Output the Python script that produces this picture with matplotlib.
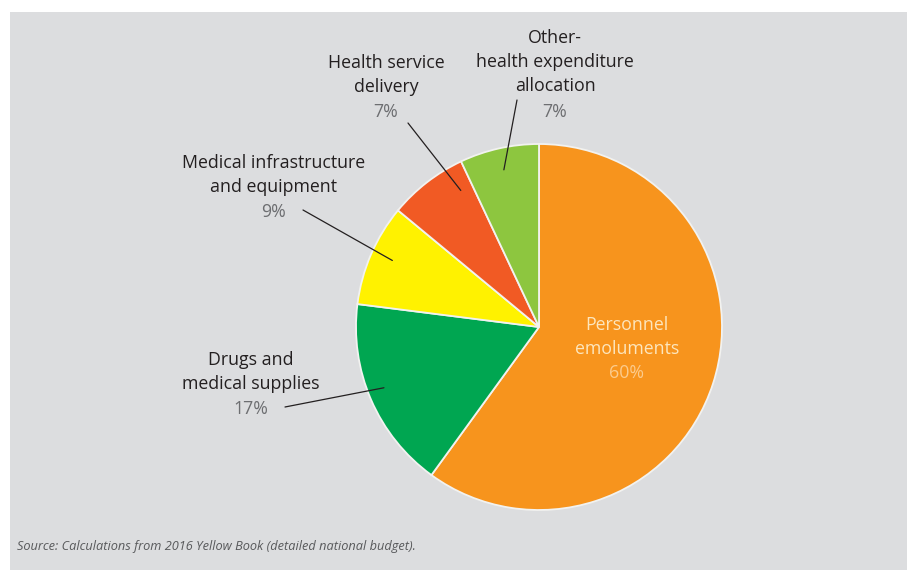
import numpy as np
import matplotlib.pyplot as plt
from matplotlib.patches import Rectangle

# health budget shares
categories = ['Personnel\nemoluments', 'Drugs and\nmedical supplies',
              'Medical infrastructure\nand equipment', 'Health service\ndelivery',
              'Other-\nhealth expenditure\nallocation']
shares = [60, 17, 9, 7, 7]
colors = ['#f7941d', '#00a651', '#fff200', '#f15a24', '#8dc63f']

W, H = 907, 570
plt.rcParams['font.family'] = ['Open Sans', 'DejaVu Sans']

fig = plt.figure(figsize=(W / 100, H / 100), dpi=100, facecolor='white')
ax = fig.add_axes([0, 0, 1, 1])
ax.add_patch(Rectangle((10, 0), W - 10, H - 12, facecolor='#dcdddf', edgecolor='none', zorder=0))

cx, cy, R = 539, H - 327, 183
wedges, _ = ax.pie(shares, colors=colors, startangle=90, counterclock=False,
                   center=(cx, cy), radius=R, frame=True,
                   wedgeprops=dict(edgecolor='#f2f2f0', linewidth=1.3))
ax.set_xlim(0, W)
ax.set_ylim(0, H)
ax.set_aspect('equal')
ax.axis('off')


def wedge_point(w, frac, shift=0.0):
    ang = np.deg2rad((w.theta1 + w.theta2) / 2 + shift)
    return cx + frac * R * np.cos(ang), cy + frac * R * np.sin(ang)


# outside labels: x, first baseline, leader start, leader radius, angle shift
label_specs = {
    1: (251, 365, (285, 407), 0.91, -2),
    2: (274, 168, (303, 210), 0.88, -1),
    3: (386, 68, (408, 123), 0.86, -8),
    4: (555, 43, (517, 100), 0.88, 0),
}

fs = 12.8
lh = 24.2
for i, (x, y0, start, frac, shift) in label_specs.items():
    lines = categories[i].split('\n')
    for k, line in enumerate(lines):
        ax.text(x, H - (y0 + k * lh), line, ha='center', va='baseline',
                fontsize=fs, color='#231f20')
    ax.text(x, H - (y0 + len(lines) * lh + 1), f'{shares[i]}%', ha='center', va='baseline',
            fontsize=fs, color='#6d6e71')
    ax.annotate('', xy=wedge_point(wedges[i], frac, shift), xytext=(start[0], H - start[1]),
                arrowprops=dict(arrowstyle='-', color='#231f20', lw=0.9,
                                shrinkA=0, shrinkB=0))

# label inside the largest slice
ax.text(627, H - 330, 'Personnel', ha='center', va='baseline', fontsize=fs, color='#fde6bd')
ax.text(627, H - 354, 'emoluments', ha='center', va='baseline', fontsize=fs, color='#fde6bd')
ax.text(627, H - 378, f'{shares[0]}%', ha='center', va='baseline', fontsize=fs, color='#fccb8c')

ax.text(17, H - 550, 'Source: Calculations from 2016 Yellow Book (detailed national budget).',
        ha='left', va='baseline', fontsize=9.2, style='italic', color='#58595b')

fig.savefig('out.png', dpi=100, facecolor='white')
